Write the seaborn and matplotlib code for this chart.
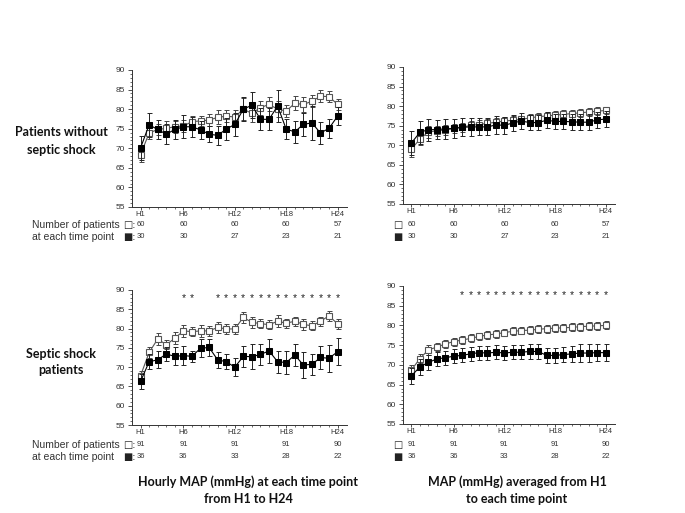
import numpy as np
import pandas as pd
import matplotlib
matplotlib.use("Agg")
import matplotlib.pyplot as plt
import matplotlib.transforms as mtransforms
import seaborn as sns

hours = list(range(1, 25))
tick_hours = [1, 6, 12, 18, 24]
tick_labels = ["H1", "H6", "H12", "H18", "H24"]

# Top-left: hourly MAP, patients without septic shock
tl_open = [68.4, 73.9, 74.8, 75.1, 75.5, 75.7, 76.8, 77.0, 77.2, 77.9, 78.2, 78.0,
           80.0, 78.9, 80.4, 81.2, 80.0, 79.5, 81.5, 81.2, 82.0, 83.3, 83.2, 81.2]
tl_open_err = [2.0, 1.5, 1.5, 1.8, 1.5, 1.5, 1.5, 1.3, 1.5, 1.8, 1.5, 1.8,
               2.8, 2.3, 1.8, 1.8, 2.0, 1.5, 1.8, 2.0, 1.5, 1.5, 1.5, 1.5]
tl_black = [70.1, 76.0, 74.8, 73.6, 74.8, 75.5, 75.5, 74.7, 73.6, 73.3, 74.9, 76.1,
            80.0, 81.0, 77.4, 77.4, 80.8, 74.9, 74.2, 76.1, 76.5, 73.9, 75.1, 78.2]
tl_black_err = [3.0, 3.1, 2.5, 2.5, 2.5, 3.0, 2.5, 2.3, 2.0, 2.5, 2.8, 3.0,
                3.0, 3.3, 2.8, 2.8, 4.0, 2.5, 2.8, 3.0, 4.3, 2.8, 2.5, 2.3]

# Top-right: averaged MAP, patients without septic shock
tr_open = [69.0, 71.6, 73.4, 73.7, 73.9, 74.3, 74.6, 75.1, 75.3, 75.6, 75.9, 76.2,
           76.4, 76.6, 77.0, 77.3, 77.5, 77.7, 77.9, 78.1, 78.3, 78.5, 78.7, 78.9]
tr_open_err = [2.0, 1.5, 1.5, 1.3, 1.3, 1.2, 1.2, 1.2, 1.1, 1.1, 1.1, 1.1,
               1.0, 1.0, 1.0, 1.0, 1.0, 1.0, 1.0, 1.0, 1.0, 1.0, 1.0, 1.0]
tr_black = [70.6, 73.3, 74.0, 74.0, 74.2, 74.3, 74.6, 74.7, 74.7, 74.7, 75.2, 75.1,
            75.7, 76.2, 75.8, 75.8, 76.4, 76.1, 76.1, 76.0, 75.9, 75.9, 76.5, 76.7]
tr_black_err = [3.0, 3.0, 2.8, 2.5, 2.5, 2.5, 2.3, 2.3, 2.2, 2.2, 2.2, 2.1,
                2.0, 2.0, 2.0, 2.0, 2.0, 2.0, 2.0, 2.0, 2.0, 2.0, 2.0, 2.0]

# Bottom-left: hourly MAP, septic shock patients
bl_open = [67.8, 73.8, 77.3, 75.8, 77.5, 79.4, 79.2, 79.4, 79.4, 80.3, 79.9, 79.9,
           82.9, 81.6, 81.3, 81.0, 81.9, 81.4, 81.9, 81.1, 80.7, 81.9, 83.3, 81.2]
bl_open_err = [1.2, 1.5, 1.5, 1.2, 1.5, 1.5, 1.2, 1.5, 1.2, 1.5, 1.2, 1.3,
               1.5, 1.5, 1.2, 1.2, 1.5, 1.2, 1.2, 1.5, 1.2, 1.2, 1.3, 1.2]
bl_black = [66.3, 71.4, 71.9, 73.4, 72.8, 73.0, 72.8, 74.9, 75.1, 71.9, 71.4, 70.0,
            72.8, 72.7, 73.3, 74.2, 71.4, 71.2, 73.1, 70.6, 70.7, 72.5, 72.3, 74.0]
bl_black_err = [2.0, 2.0, 2.2, 1.8, 2.3, 2.5, 1.5, 2.3, 2.2, 2.0, 2.0, 2.3,
                2.8, 3.2, 2.8, 3.2, 2.8, 3.0, 2.8, 3.3, 2.8, 3.0, 3.5, 3.5]
bl_stars = [6, 7, 10, 11, 12, 13, 14, 15, 16, 17, 18, 19, 20, 21, 22, 23, 24]

# Bottom-right: averaged MAP, septic shock patients
br_open = [68.7, 71.6, 73.8, 74.5, 75.3, 75.9, 76.3, 76.7, 77.2, 77.6, 77.8, 78.2,
           78.5, 78.7, 78.8, 79.0, 79.2, 79.3, 79.4, 79.5, 79.7, 79.8, 79.9, 80.0]
br_open_err = [1.2, 1.2, 1.2, 1.0, 1.0, 1.0, 1.0, 1.0, 1.0, 1.0, 1.0, 1.0,
               1.0, 1.0, 1.0, 1.0, 1.0, 1.0, 1.0, 1.0, 1.0, 1.0, 1.0, 1.0]
br_black = [67.2, 69.5, 70.6, 71.5, 71.8, 72.2, 72.4, 72.8, 73.1, 73.0, 73.2, 73.0,
            73.2, 73.2, 73.4, 73.4, 72.4, 72.4, 72.6, 72.8, 73.0, 73.0, 73.1, 73.1]
br_black_err = [2.0, 2.0, 2.0, 1.8, 1.8, 1.8, 1.8, 1.8, 1.8, 1.8, 1.8, 1.8,
                1.8, 1.8, 2.0, 2.0, 2.0, 2.0, 2.0, 2.0, 2.2, 2.2, 2.2, 2.2]
br_stars = list(range(7, 25))

counts_top_open = ["60", "60", "60", "60", "57"]
counts_top_black = ["30", "30", "27", "23", "21"]
counts_bot_open = ["91", "91", "91", "91", "90"]
counts_bot_black = ["36", "36", "33", "28", "22"]

row_labels = ["Patients without\nseptic shock", "Septic shock\npatients"]
col_titles = ["Hourly MAP (mmHg) at each time point\nfrom H1 to H24",
              "MAP (mmHg) averaged from H1\nto each time point"]

sns.set_theme(style="ticks")
plt.rcParams["font.family"] = ["Liberation Sans", "DejaVu Sans"]

W, H = 685, 513
fig = plt.figure(figsize=(W / 100, H / 100), dpi=100)


def px_axes(left, top, right, bottom):
    return fig.add_axes([left / W, 1 - bottom / H, (right - left) / W, (bottom - top) / H])


axes_px = {
    "tl": (132, 70, 347, 207),
    "tr": (403, 67, 615, 204),
    "bl": (132, 290, 347, 425),
    "br": (403, 286, 615, 424),
}
panels = {
    "tl": (tl_open, tl_open_err, tl_black, tl_black_err, None),
    "tr": (tr_open, tr_open_err, tr_black, tr_black_err, None),
    "bl": (bl_open, bl_open_err, bl_black, bl_black_err, bl_stars),
    "br": (br_open, br_open_err, br_black, br_black_err, br_stars),
}

dark = "#222222"
for key, (o, oe, b, be, stars) in panels.items():
    ax = px_axes(*axes_px[key])
    df = pd.DataFrame({"hour": hours, "open": o, "black": b})
    ax.errorbar(hours, o, yerr=oe, fmt="none", ecolor="#444444", elinewidth=0.7,
                capsize=1.8, capthick=0.7, zorder=2)
    sns.lineplot(data=df, x="hour", y="open", ax=ax, color="#555555", linewidth=0.8,
                 marker="s", markersize=5, markerfacecolor="white",
                 markeredgecolor="#555555", markeredgewidth=0.8, zorder=3)
    ax.errorbar(hours, b, yerr=be, fmt="none", ecolor=dark, elinewidth=0.7,
                capsize=1.8, capthick=0.7, zorder=4)
    sns.lineplot(data=df, x="hour", y="black", ax=ax, color="black", linewidth=0.8,
                 marker="s", markersize=5, markerfacecolor="black",
                 markeredgecolor="black", zorder=5)
    if stars:
        for s in stars:
            ax.text(s, 87.8, "*", ha="center", va="center", fontsize=7.5, color=dark)
    ax.set_xlim(0, 25.1)
    ax.set_ylim(55, 90)
    ax.set_yticks(range(55, 91, 5))
    ax.set_yticks(range(55, 91, 1), minor=True)
    ax.set_xticks(tick_hours)
    ax.set_xticklabels(tick_labels)
    ax.set_xticks(hours, minor=True)
    ax.tick_params(axis="y", which="major", labelsize=6, colors="#333333",
                   length=3, width=0.6, pad=2)
    ax.tick_params(axis="x", which="major", labelsize=5.5, colors="#333333",
                   length=2, width=0.6, pad=1)
    ax.tick_params(axis="both", which="minor", length=1.5, width=0.5, color="#333333")
    ax.set_xlabel("")
    ax.set_ylabel("")
    for sp in ["left", "bottom"]:
        ax.spines[sp].set_linewidth(0.7)
        ax.spines[sp].set_color("#333333")
    sns.despine(ax=ax)

    # patient counts
    tr = mtransforms.blended_transform_factory(ax.transData, fig.transFigure)
    top_row = key.startswith("t")
    y1 = 225 if top_row else 445
    y2 = 237 if top_row else 457
    co = counts_top_open if top_row else counts_bot_open
    cb = counts_top_black if top_row else counts_bot_black
    for h, a, c in zip(tick_hours, co, cb):
        ax.text(h, 1 - y1 / H, a, transform=tr, ha="center", va="center",
                fontsize=5.5, color="#333333")
        ax.text(h, 1 - y2 / H, c, transform=tr, ha="center", va="center",
                fontsize=5.5, color="#333333")
    sx = 123 if key.endswith("l") else 393
    colon = ":" if key.endswith("l") else ""
    fig.text(sx / W, 1 - y1 / H, "\u25a1" + colon, ha="left", va="center",
             fontsize=7, color="#222222", family=["DejaVu Sans"])
    fig.text(sx / W, 1 - y2 / H, "\u25a0" + colon, ha="left", va="center",
             fontsize=7, color="#222222", family=["DejaVu Sans"])
    if key.endswith("l"):
        fig.text(32 / W, 1 - y1 / H, "Number of patients", ha="left", va="center",
                 fontsize=7.5, color="#333333")
        fig.text(32 / W, 1 - y2 / H, "at each time point", ha="left", va="center",
                 fontsize=7.5, color="#333333")

bold = dict(fontsize=9, fontweight="bold", family=["Lato", "DejaVu Sans"],
            color="#111111", ha="center", va="center", linespacing=1.5)
fig.text(61 / W, 1 - 141 / H, row_labels[0], **bold)
fig.text(61 / W, 1 - 362 / H, row_labels[1], **bold)
fig.text(248 / W, 1 - 490 / H, col_titles[0], **bold)
fig.text(517 / W, 1 - 490 / H, col_titles[1], **bold)

fig.savefig("out.png", dpi=100, facecolor="white")
